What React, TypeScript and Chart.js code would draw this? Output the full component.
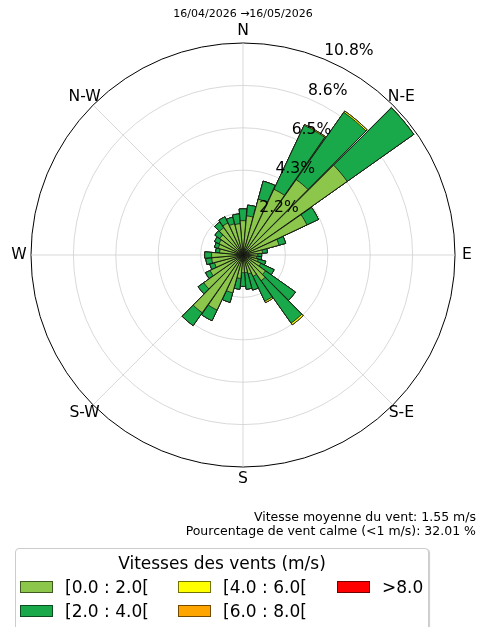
import { useEffect, useRef } from "react";
import { Chart, registerables } from "chart.js";

Chart.register(...registerables);

// Wind direction sectors (degrees clockwise from north), 10° each
const directions = [
  0, 10, 20, 30, 40, 50, 60, 70, 80, 90, 100, 110, 120, 130, 140, 150, 160, 170,
  180, 190, 200, 210, 220, 230, 240, 250, 260, 270, 280, 290, 300, 310, 320, 330, 340, 350,
];

// Frequency (%) of each speed class per sector
const speed0to2 = [
  1.75, 2.0, 2.95, 3.7, 4.7, 6.5, 3.6, 1.9, 1.0, 0.75, 0.7, 0.8, 1.0, 1.4, 1.6, 1.2, 1.0, 0.9,
  0.9, 1.2, 2.0, 3.1, 3.6, 2.45, 1.85, 1.5, 1.6, 1.6, 1.2, 1.3, 1.35, 1.45, 1.7, 1.8, 1.65, 1.6,
];
const speed2to4 = [
  0.6, 0.55, 0.95, 3.6, 4.2, 4.15, 0.65, 0.35, 0.25, 0.2, 0.25, 0.4, 0.75, 1.87, 2.65, 1.4, 0.85, 0.85,
  0.7, 0.55, 0.5, 0.6, 0.8, 0.35, 0.25, 0.25, 0.3, 0.35, 0.2, 0.2, 0.25, 0.3, 0.35, 0.35, 0.35, 0.5,
];
const speed4to6 = [
  0, 0, 0, 0.05, 0.08, 0, 0, 0, 0, 0, 0, 0, 0, 0, 0.1, 0.08, 0, 0,
  0, 0, 0, 0, 0, 0, 0, 0, 0, 0, 0, 0, 0, 0, 0, 0, 0, 0,
];
const speed6to8 = [
  0, 0, 0, 0, 0, 0, 0, 0, 0, 0, 0, 0, 0, 0, 0, 0, 0, 0,
  0, 0, 0, 0, 0, 0, 0, 0, 0, 0, 0, 0, 0, 0, 0, 0, 0, 0,
];
const speedOver8 = [
  0, 0, 0, 0, 0, 0, 0, 0, 0, 0, 0, 0, 0, 0, 0, 0, 0, 0,
  0, 0, 0, 0, 0, 0, 0, 0, 0, 0, 0, 0, 0, 0, 0, 0, 0, 0,
];

const speedClasses = ["[0.0 : 2.0[", "[2.0 : 4.0[", "[4.0 : 6.0[", "[6.0 : 8.0[", ">8.0"];
const classColors = ["#8cc74b", "#19a94b", "#ffff00", "#ffa500", "#ff0000"];

// Radial rings (%) and their labels
const radialTicks = [0, 2.16, 4.32, 6.48, 8.64, 10.8];
const radialTickLabels = ["", "2.2%", "4.3%", "6.5%", "8.6%", "10.8%"];
const R_MAX = 10.8;

const compassLabels = ["N", "N-E", "E", "S-E", "S", "S-W", "W", "N-W"];
const compassAngles = [0, 45, 90, 135, 180, 225, 270, 315];

const periodTitle = "16/04/2026 \u219216/05/2026";
const meanSpeedText = "Vitesse moyenne du vent: 1.55 m/s";
const calmText = "Pourcentage de vent calme (<1 m/s): 32.01 %";
const legendTitle = "Vitesses des vents (m/s)";

const BAR_DEG = 9.5;
const GAP_DEG = 10 - BAR_DEG;
const FONT = '"DejaVu Sans", "Liberation Sans", sans-serif';

const polarPoint = (xc: number, yc: number, r: number, deg: number) => {
  const a = (deg * Math.PI) / 180;
  return { x: xc + r * Math.sin(a), y: yc - r * Math.cos(a) };
};

const roseDecorations = {
  id: "roseDecorations",
  beforeDatasetsDraw(chart: any) {
    const r = chart.scales.r;
    const ctx = chart.ctx;
    const outer = r.getDistanceFromCenterForValue(R_MAX);
    ctx.save();
    ctx.strokeStyle = "#cfcfcf";
    ctx.lineWidth = 0.8;
    compassAngles.forEach((deg) => {
      const p = polarPoint(r.xCenter, r.yCenter, outer, deg);
      ctx.beginPath();
      ctx.moveTo(r.xCenter, r.yCenter);
      ctx.lineTo(p.x, p.y);
      ctx.stroke();
    });
    ctx.restore();
  },
  afterDatasetsDraw(chart: any) {
    const r = chart.scales.r;
    const ctx = chart.ctx;
    const outer = r.getDistanceFromCenterForValue(R_MAX);
    ctx.save();
    ctx.fillStyle = "#000";
    ctx.font = `15.6px ${FONT}`;
    // compass directions around the rim
    ctx.textAlign = "center";
    ctx.textBaseline = "middle";
    compassLabels.forEach((txt, i) => {
      const p = polarPoint(r.xCenter, r.yCenter, outer + 12, compassAngles[i]);
      ctx.fillText(txt, p.x, p.y);
    });
    // ring percentages along the 22.5° bearing
    ctx.textAlign = "left";
    ctx.textBaseline = "bottom";
    radialTicks.forEach((v, i) => {
      if (!radialTickLabels[i]) return;
      const p = polarPoint(r.xCenter, r.yCenter, r.getDistanceFromCenterForValue(v), 22.5);
      ctx.fillText(radialTickLabels[i], p.x, p.y);
    });
    ctx.restore();
  },
};

function WindRose() {
  const canvasRef = useRef<HTMLCanvasElement | null>(null);

  useEffect(() => {
    const canvas = canvasRef.current;
    if (!canvas) return;
    const bins = [speed0to2, speed2to4, speed4to6, speed6to8, speedOver8];

    // each sector is followed by a narrow empty slot so bars are separated
    const labels: string[] = [];
    directions.forEach((d) => labels.push(`${d}\u00b0`, ""));

    // stacked classes: each dataset holds the cumulative frequency up to its class;
    // the first dataset is painted last, so lower classes sit on top
    const datasets = bins.map((_, k) => {
      const data: number[] = [];
      directions.forEach((_d, i) => {
        let cum = 0;
        for (let j = 0; j <= k; j++) cum += bins[j][i];
        data.push(cum, 0);
      });
      return {
        label: speedClasses[k],
        data,
        backgroundColor: classColors[k],
        borderColor: "#111",
        borderWidth: (c: any) => (c.dataIndex % 2 === 0 ? 0.8 : 0),
        angle: (c: any) => (c.dataIndex % 2 === 0 ? BAR_DEG : GAP_DEG),
      };
    });

    const chart = new Chart(canvas, {
      type: "polarArea",
      data: { labels, datasets: datasets as any },
      options: {
        responsive: false,
        maintainAspectRatio: false,
        animation: false,
        devicePixelRatio: 1,
        layout: { padding: { left: 31, top: 43, right: 28, bottom: 160 } },
        plugins: { legend: { display: false }, tooltip: { enabled: false } },
        scales: {
          r: {
            min: 0,
            max: R_MAX,
            startAngle: -BAR_DEG / 2,
            afterBuildTicks: (s: any) => {
              s.ticks = radialTicks.map((v) => ({ value: v }));
            },
            ticks: { display: false },
            pointLabels: { display: false },
            angleLines: { display: false },
            grid: {
              circular: true,
              color: (c: any) => (c.tick && c.tick.value >= R_MAX ? "#000" : "#cfcfcf"),
              lineWidth: (c: any) => (c.tick && c.tick.value >= R_MAX ? 1 : 0.8),
            },
          },
        },
      } as any,
      plugins: [roseDecorations],
    });
    return () => chart.destroy();
  }, []);

  return <canvas ref={canvasRef} width={483} height={627} style={{ position: "absolute", left: 0, top: 0 }} />;
}

const legendItems = [
  { idx: 0, left: 20, top: 581 },
  { idx: 1, left: 20, top: 605 },
  { idx: 2, left: 178, top: 581 },
  { idx: 3, left: 178, top: 605 },
  { idx: 4, left: 337, top: 581 },
];

export default function App() {
  return (
    <div
      style={{
        position: "absolute",
        left: 0,
        top: 0,
        width: 483,
        height: 627,
        overflow: "hidden",
        background: "#fff",
        fontFamily: FONT,
        color: "#000",
      }}
    >
      <WindRose />
      <div style={{ position: "absolute", top: 7, left: 0, width: 486, textAlign: "center", fontSize: 11, lineHeight: "14px" }}>
        {periodTitle}
      </div>
      <div style={{ position: "absolute", top: 510, right: 7, textAlign: "right", fontSize: 12.5, lineHeight: "14px", whiteSpace: "nowrap" }}>
        <div>{meanSpeedText}</div>
        <div>{calmText}</div>
      </div>
      <div
        style={{
          position: "absolute",
          left: 15,
          top: 548,
          width: 412,
          height: 100,
          border: "1px solid #cccccc",
          borderRadius: 4,
          background: "#fff",
          boxShadow: "1px 1px 1px rgba(0,0,0,0.2)",
        }}
      />
      <div style={{ position: "absolute", left: 15, top: 552, width: 414, textAlign: "center", fontSize: 17, lineHeight: "22px" }}>
        {legendTitle}
      </div>
      {legendItems.map((it) => (
        <div key={it.idx}>
          <div
            style={{
              position: "absolute",
              left: it.left,
              top: it.top,
              width: 33,
              height: 12,
              boxSizing: "border-box",
              background: classColors[it.idx],
              border: "1px solid rgba(0,0,0,0.55)",
            }}
          />
          <div
            style={{
              position: "absolute",
              left: it.left + 45,
              top: it.top - 5,
              fontSize: 17,
              lineHeight: "22px",
              whiteSpace: "nowrap",
            }}
          >
            {speedClasses[it.idx]}
          </div>
        </div>
      ))}
    </div>
  );
}
